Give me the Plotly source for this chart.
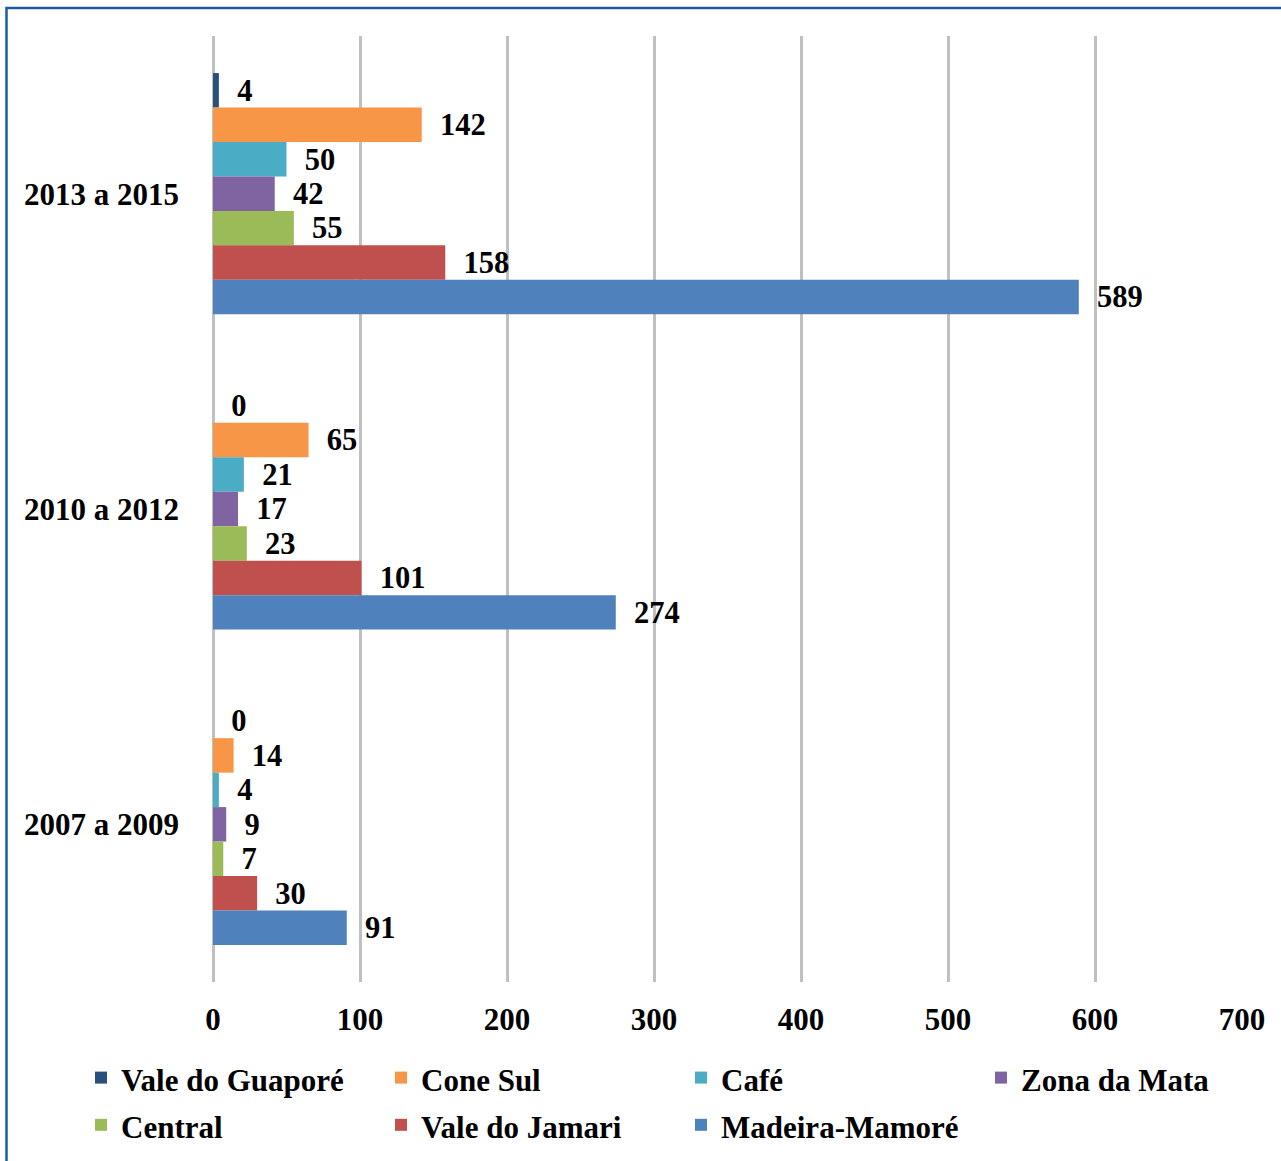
import plotly.graph_objects as go

categories = ["2013 a 2015", "2010 a 2012", "2007 a 2009"]
series_names = ["Vale do Guaporé", "Cone Sul", "Café", "Zona da Mata",
                "Central", "Vale do Jamari", "Madeira-Mamoré"]
vale_do_guapore = [4, 0, 0]
cone_sul = [142, 65, 14]
cafe = [50, 21, 4]
zona_da_mata = [42, 17, 9]
central = [55, 23, 7]
vale_do_jamari = [158, 101, 30]
madeira_mamore = [589, 274, 91]
x_ticks = [0, 100, 200, 300, 400, 500, 600, 700]

values = [vale_do_guapore, cone_sul, cafe, zona_da_mata, central,
          vale_do_jamari, madeira_mamore]
colors = ["#27507a", "#F79646", "#4BACC6", "#8064A2", "#9BBB59",
          "#C0504D", "#4F81BD"]

FONT = "Liberation Serif"
FS = 31
fig = go.Figure()
for name, vals, col in zip(series_names, values, colors):
    fig.add_trace(go.Bar(
        y=categories, x=vals,
        name=f'<span style="font-size:{FS}px"><b>{name}</b></span>',
        orientation="h",
        marker=dict(color=col, line=dict(width=0)),
        text=vals, texttemplate="  <b>%{x}</b>", textposition="outside",
        textfont=dict(family=FONT, size=FS, color="black"),
        cliponaxis=False,
    ))

W, H = 1281, 1161
L, R, T, B = 213, 39, 36, 179
pw, ph = W - L - R, H - T - B

def px_x(p):
    return (p - L) / pw

def px_y(p):
    return 1 - (p - T) / ph

fig.update_layout(
    width=W, height=H,
    margin=dict(l=L, r=R, t=T, b=B, autoexpand=False),
    barmode="group", bargap=0.235, bargroupgap=0,
    plot_bgcolor="white", paper_bgcolor="white",
    font=dict(family=FONT, size=FS, color="black"),
    xaxis=dict(range=[0, 700], tickvals=x_ticks,
               ticktext=[f"<b>{v}</b>" for v in x_ticks],
               showgrid=True, gridcolor="#c0c0c0", gridwidth=2.5,
               zeroline=True, zerolinecolor="#c0c0c0", zerolinewidth=2.5,
               showline=False, ticks="", ticklabelstandoff=16,
               tickfont=dict(family=FONT, size=FS, color="black")),
    yaxis=dict(autorange="reversed", showgrid=False, showline=False,
               ticks="", ticklabelstandoff=33,
               tickvals=categories,
               ticktext=[f"<b>{c}</b>" for c in categories],
               tickfont=dict(family=FONT, size=FS, color="black")),
    legend=dict(orientation="h", x=px_x(81), xanchor="left",
                y=px_y(1049), yanchor="top",
                entrywidth=255, entrywidthmode="pixels",
                font=dict(family=FONT, size=34, color="black"),
                bgcolor="rgba(0,0,0,0)",
                itemwidth=30, traceorder="normal"),
    showlegend=True,
)

fig.add_shape(type="rect", xref="paper", yref="paper",
              x0=px_x(6.5), x1=px_x(1320), y0=px_y(1250), y1=px_y(8),
              line=dict(color="#1f5aa6", width=2.5), fillcolor="rgba(0,0,0,0)",
              layer="above")

fig.write_html("out.html", config={"displayModeBar": False},
               post_script="document.body.style.margin='0';")
